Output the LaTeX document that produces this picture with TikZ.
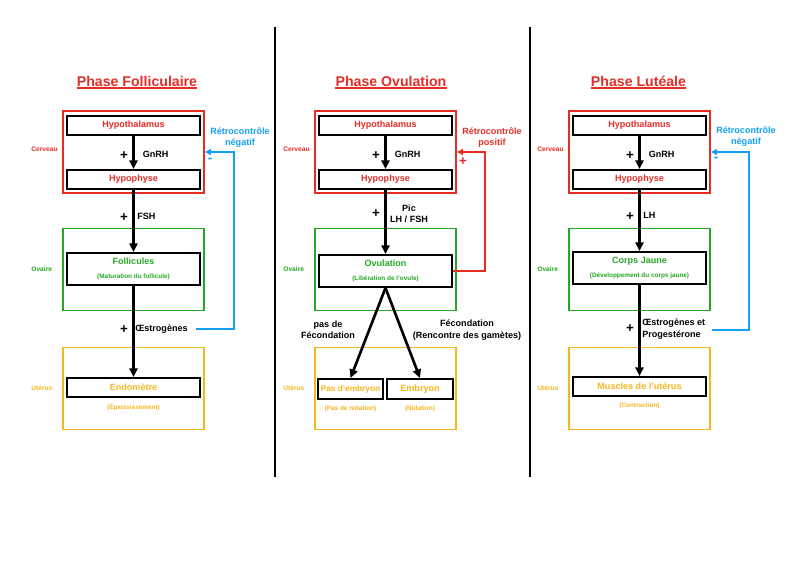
\documentclass[tikz,border=0pt]{standalone}
\usepackage{fontspec}
\setmainfont{Liberation Sans}
\usepackage{tikz}
\usetikzlibrary{arrows.meta,               % pointes de flèches
           positioning,               % placement relatif
           calc}                      % Calculs de coordonnées entre $ $
\definecolor{rouge}{RGB}{229,45,38}
\definecolor{vert}{RGB}{38,168,36}
\definecolor{orange}{RGB}{246,182,30}
\definecolor{bleu}{RGB}{20,160,245}
\tikzset{
  zone/.style={draw=#1,line width=1.4pt,minimum width=105.75pt,minimum height=61.5pt,inner sep=0},
  boite/.style={draw,line width=1.4pt,minimum width=99.75pt,minimum height=14.25pt,inner sep=0,
                font=\fontsize{6.8}{8}\selectfont\bfseries},
  grande/.style={boite,minimum height=24pt,align=center,font=\fontsize{6.8}{10.5}\selectfont\bfseries},
  sous/.style={font=\fontsize{4.8}{6}\selectfont\bfseries,inner sep=1pt},
  lieu/.style={font=\fontsize{5}{6}\selectfont\bfseries,anchor=west,inner sep=0},
  txt/.style={font=\fontsize{6.8}{8.5}\selectfont\bfseries,inner sep=0},
  signe/.style={font=\fontsize{10}{10}\selectfont\bfseries,inner sep=0},
  titre/.style={text=rouge,font=\fontsize{10.6}{12}\selectfont\bfseries,inner sep=0},
  fleche/.style={line width=2pt,-{Triangle[width=6pt,length=6.5pt]}},
  retro/.style={line width=1.2pt,-{Triangle[width=4.5pt,length=4.5pt]}}
}
\newcommand{\petit}[1]{{\fontsize{4.8}{10.5}\selectfont #1}}
\begin{document}
\begin{tikzpicture}[x=0.75pt,y=-0.75pt]
\useasboundingbox (0,0) rectangle (800,566);
% separations
\draw[line width=1.5pt] (274.5,27) -- (274.5,477);
\draw[line width=1.5pt] (530,27) -- (530,477);
% parties communes
\foreach \i/\x in {1/133.5,2/385.5,3/639.5}{
  \node[zone=rouge] (cerv\i) at (\x,152) {};
  \node[zone=vert] (ov\i) at (\x,269.5) {};
  \node[zone=orange] (ut\i) at (\x,388.5) {};
  \node[lieu,text=rouge] (lc\i) at ($(cerv\i.west)+(-31,-3)$) {Cerveau};
  \node[lieu,text=vert] (lo\i) at ($(ov\i.west)+(-31,0)$) {Ovaire};
  \node[lieu,text=orange] (lu\i) at ($(ut\i.west)+(-31,0)$) {Utérus};
  \node[boite,text=rouge] (hth\i) at (\x,125.5) {Hypothalamus};
  \node[boite,text=rouge] (hph\i) at (\x,179.5) {Hypophyse};
  \draw[fleche] (hth\i) -- (hph\i);
  \node[signe] (pg\i) at (\x-9.5,156) {+};
  \node[txt,anchor=west] (gn\i) at (\x+9,154) {GnRH};
}
% phase folliculaire
\node[titre] (t1) at (137,81) {Phase Folliculaire};
\draw[rouge,line width=0.9pt] ([yshift=-1.4pt]t1.base west) -- ([yshift=-1.4pt]t1.base east);
\node[grande,text=vert] (fol) at (133.5,269) {Follicules\\\petit{(Maturation du follicule)}};
\node[boite,text=orange] (endo) at (133.5,387.5) {Endomètre};
\node[sous,text=orange,below=3.5pt of endo] (endos) {(Épaississement)};
\draw[fleche] (hph1) -- (fol);
\draw[fleche] (fol) -- (endo);
\node[signe] (pf1) at (124,218) {+};
\node[txt,anchor=west] (fsh) at (137,216) {FSH};
\node[signe] (po1) at (124,330) {+};
\node[txt,anchor=west] (oe1) at (135,329) {Œstrogènes};
\node[txt,text=bleu,align=center] (rn1) at (240,137.5) {Rétrocontrôle\\négatif};
\node[signe,text=bleu] (m1) at (210,160) {-};
\draw[retro,bleu] (oe1.east) ++(8,0) -| ($(cerv1.east)+(29,0)$) -- (cerv1.east);
% phase ovulation
\node[titre] (t2) at (391,81) {Phase Ovulation};
\draw[rouge,line width=0.9pt] ([yshift=-1.4pt]t2.base west) -- ([yshift=-1.4pt]t2.base east);
\node[grande,text=vert] (ovu) at (385.5,271) {Ovulation\\\petit{(Libération de l'ovule)}};
\node[boite,text=orange,minimum width=48.75pt,minimum height=15pt,font=\fontsize{6.2}{8}\selectfont\bfseries] (pas) at (350.5,389) {Pas d'embryon};
\node[boite,text=orange,minimum width=49.5pt,minimum height=15pt] (emb) at (420,389) {Embryon};
\node[sous,text=orange,below=3.5pt of pas] (pass) {(Pas de nidation)};
\node[sous,text=orange,below=3.5pt of emb] (embs) {(Nidation)};
\draw[fleche] (hph2) -- (ovu);
\draw[fleche] (ovu.south) -- (pas.north);
\draw[fleche] (ovu.south) -- (emb.north);
\node[signe] (pp2) at (376,214) {+};
\node[txt,align=center] (pic) at (409,213.5) {Pic\\LH / FSH};
\node[txt,align=center] (pfec) at (328,330) {pas de\\Fécondation};
\node[txt,align=center] (fec) at (467,330) {Fécondation\\(Rencontre des gamètes)};
\node[txt,text=rouge,align=center] (rp2) at (492,137.5) {Rétrocontrôle\\positif};
\node[signe,text=rouge] (p2) at (463,162) {+};
\draw[retro,rouge] (ovu.east) -| ($(cerv2.east)+(28,0)$) -- (cerv2.east);
% phase luteale
\node[titre] (t3) at (638.5,81) {Phase Lutéale};
\draw[rouge,line width=0.9pt] ([yshift=-1.4pt]t3.base west) -- ([yshift=-1.4pt]t3.base east);
\node[grande,text=vert] (cj) at (639.5,268) {Corps Jaune\\\petit{(Développement du corps jaune)}};
\node[boite,text=orange] (mu) at (639.5,386.5) {Muscles de l'utérus};
\node[sous,text=orange,below=3.5pt of mu] (mus) {(Contraction)};
\draw[fleche] (hph3) -- (cj);
\draw[fleche] (cj) -- (mu);
\node[signe] (pl3) at (630,217) {+};
\node[txt,anchor=west] (lh) at (643,215) {LH};
\node[signe] (pe3) at (630,329) {+};
\node[txt,anchor=west,align=left] (oe3) at (642,329) {Œstrogènes et\\Progestérone};
\node[txt,text=bleu,align=center] (rn3) at (746,136.5) {Rétrocontrôle\\négatif};
\node[signe,text=bleu] (m3) at (716,159) {-};
\draw[retro,bleu] (oe3.east) ++(6,1) -| ($(cerv3.east)+(38,0)$) -- (cerv3.east);
\end{tikzpicture}
\end{document}
